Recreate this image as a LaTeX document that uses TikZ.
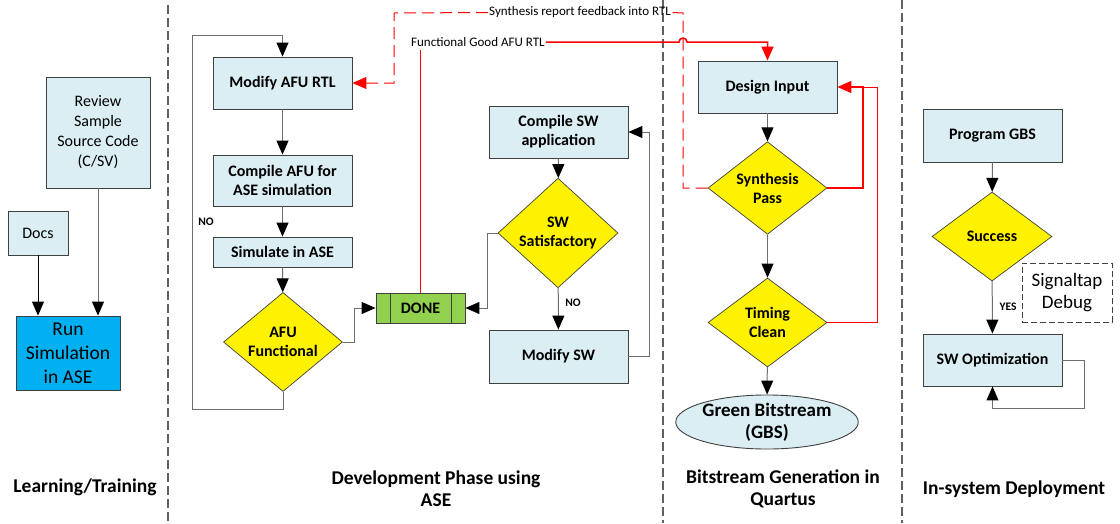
\documentclass[tikz,border=0pt]{standalone}
\usepackage{fontspec}
\setmainfont{Carlito}
\usetikzlibrary{shapes.geometric,arrows.meta,calc}
\definecolor{lblue}{HTML}{DBEEF4}
\definecolor{runblue}{HTML}{00B0F0}
\definecolor{donegreen}{HTML}{92D050}
\definecolor{edge}{HTML}{404040}
\definecolor{lgray}{HTML}{6E6E6E}
\definecolor{divgray}{HTML}{606060}
\begin{document}
\begin{tikzpicture}[x=1pt,y=-1pt,
  box/.style={draw=edge, fill=lblue, line width=0.9pt, inner sep=0pt, align=center,
    font=\bfseries\fontsize{16}{19}\selectfont},
  plainbox/.style={draw=edge, fill=lblue, line width=0.9pt, inner sep=0pt, align=center,
    font=\fontsize{16}{20}\selectfont},
  dia/.style={diamond, draw=edge, fill=yellow, line width=0.7pt, inner sep=0pt, align=center,
    font=\bfseries\fontsize{16}{19}\selectfont},
  tip/.style={-{Triangle[length=14pt,width=12pt,color=#1]}},
  arr/.style={draw=lgray, line width=1pt, tip=black},
  redarr/.style={draw=red, line width=1.5pt, tip=red},
  redln/.style={draw=red, line width=1.2pt},
  divider/.style={draw=divgray, line width=1.6pt, dash pattern=on 9pt off 4pt},
  lbl/.style={font=\bfseries\fontsize{11.5}{13}\selectfont, inner sep=0pt},
  redlbl/.style={font=\fontsize{13}{15}\selectfont, inner sep=1pt},
  phase/.style={font=\bfseries\fontsize{19.5}{22}\selectfont, align=center, inner sep=0pt}
]
\useasboundingbox (0,0) rectangle (1120,523);

% dividers
\draw[divider] (168,5) -- (168,523);
\draw[divider] (663,0) -- (663,523);
\draw[divider] (902,0) -- (902,523);

% ---------- Learning ----------
\node[plainbox, minimum width=104pt, minimum height=111pt] (rev) at (98,132.5) {Review\\Sample\\Source Code\\(C/SV)};
\node[plainbox, minimum width=60pt, minimum height=44pt] (docs) at (38,233) {Docs};
\node[draw=edge, fill=runblue, line width=0.9pt, inner sep=0pt, align=center,
  font=\fontsize{19.5}{24}\selectfont, minimum width=104pt, minimum height=74pt] (run) at (68,353) {Run\\Simulation\\in ASE};
\draw[arr, draw=black] (docs.south) -- (docs.south |- run.north);
\draw[arr] (rev.south) -- (rev.south |- run.north);

% ---------- Development ----------
\node[box, minimum width=139pt, minimum height=52pt] (mafu) at (282.5,83) {Modify AFU RTL};
\node[box, minimum width=139pt, minimum height=51pt] (cafu) at (282.5,180.5) {Compile AFU for\\ASE simulation};
\node[box, minimum width=139pt, minimum height=30pt] (sim) at (282.5,252) {Simulate in ASE};
\node[dia, minimum width=119pt, minimum height=90pt] (afuf) at (283,342) {AFU\\Functional};
\node[draw=edge, fill=donegreen, line width=0.9pt, inner sep=0pt,
  font=\bfseries\fontsize{16}{19}\selectfont, minimum width=89pt, minimum height=30pt] (done) at (420.5,308) {DONE};
\draw[draw=edge, line width=0.9pt] ($(done.north west)+(15,0)$) -- ($(done.south west)+(15,0)$);
\draw[draw=edge, line width=0.9pt] ($(done.north east)+(-14,0)$) -- ($(done.south east)+(-14,0)$);

\node[box, minimum width=139pt, minimum height=52pt] (csw) at (558.5,132) {Compile SW\\application};
\node[dia, minimum width=120pt, minimum height=88pt] (sws) at (558,233) {SW\\Satisfactory};
\node[box, minimum width=139pt, minimum height=53pt] (msw) at (558.5,356.5) {Modify SW};

\coordinate (l1) at (192,409);
\coordinate (l2) at (192,35);
\draw[arr] (mafu) -- (cafu);
\draw[arr] (cafu) -- (sim);
\draw[arr] (sim) -- (afuf);
\draw[arr] (afuf.south) |- (l1) -- (l2) -| (mafu.north);
\node[lbl] (no1) at (206,222) {NO};
\draw[arr] (afuf.east) -- ++(12,0) |- (done.west);

\draw[arr] (csw) -- (sws);
\draw[arr] (sws) -- (msw);
\node[lbl] (no2) at (573,303) {NO};
\draw[arr] (sws.west) -- ++(-10,0) |- (done.east);
\draw[arr] (msw.east) -- ++(21,0) |- (csw.east);

% ---------- Bitstream ----------
\node[box, minimum width=139pt, minimum height=52pt] (din) at (767.5,87) {Design Input};
\node[dia, minimum width=119pt, minimum height=90pt] (syn) at (767.5,188) {Synthesis\\Pass};
\node[dia, minimum width=119pt, minimum height=89pt] (tim) at (767.5,322.5) {Timing\\Clean};
\node[ellipse, draw=edge, fill=lblue, line width=0.9pt, inner sep=0pt, align=center,
  font=\bfseries\fontsize{19}{22}\selectfont, minimum width=180pt, minimum height=50pt] (gbs) at (767,422) {Green Bitstream\\(GBS)};
\draw[arr] (din) -- (syn);
\draw[arr] (syn) -- (tim);
\draw[arr] (tim) -- (gbs);

% red feedback loops
\coordinate (r1) at (863,87);
\coordinate (r2) at (877,87);
\draw[redarr] (syn.east) -| (r1) -- (din.east);
\draw[redln, line width=1pt] (tim.east) -| (r2) -- (r1);

% top red lines
\node[redlbl, anchor=west] (fg) at (410,42) {Functional Good AFU RTL};
\node[redlbl, anchor=west] (sr) at (488,12.5) {Synthesis report feedback into RTL};
\coordinate (fgdrop) at (421,50);
\draw[redln, line width=1pt] (done.north) -- (done.north |- fgdrop);
\coordinate (h1) at (679,42);
\draw[redarr] (fg.east) -- (h1) arc[start angle=180, end angle=360, radius=4] -- (din.north |- h1) -- (din.north);
\coordinate (d1) at (683,13);
\coordinate (d2) at (394,13);
\coordinate (d3) at (394,83);
\draw[draw=red, line width=1pt, dash pattern=on 12pt off 6pt] (syn.west) -- (d1 |- syn.west) -- (d1) -- (sr.east);
\draw[draw=red, line width=1pt, dash pattern=on 12pt off 6pt, tip=red] (sr.west) -- (d2) -- (d3) -- (mafu.east);

% ---------- Deployment ----------
\node[box, minimum width=139pt, minimum height=53pt] (pgbs) at (992.5,135.5) {Program GBS};
\node[dia, minimum width=120pt, minimum height=89pt] (succ) at (992,236.5) {Success};
\node[draw=edge, line width=1pt, dash pattern=on 6pt off 3pt, inner sep=0pt, align=center,
  font=\fontsize{19}{22}\selectfont, minimum width=90pt, minimum height=59pt] (sig) at (1067,292.5) {Signaltap\\Debug};
\node[box, minimum width=139pt, minimum height=52pt] (swo) at (992.5,360) {SW Optimization};
\draw[arr] (pgbs) -- (succ);
\draw[arr] (succ) -- (swo);
\node[lbl] (yes) at (1008,307) {YES};
\coordinate (s1) at (1084,408);
\draw[arr] (swo.east) -| (s1) -| (swo.south);

% ---------- phase labels ----------
\node[phase] (p1) at (85,487) {Learning/Training};
\node[phase] (p2) at (436,489) {Development Phase using\\ASE};
\node[phase] (p3) at (783,489) {Bitstream Generation in\\Quartus};
\node[phase] (p4) at (1014,489) {In-system Deployment};
\end{tikzpicture}
\end{document}
